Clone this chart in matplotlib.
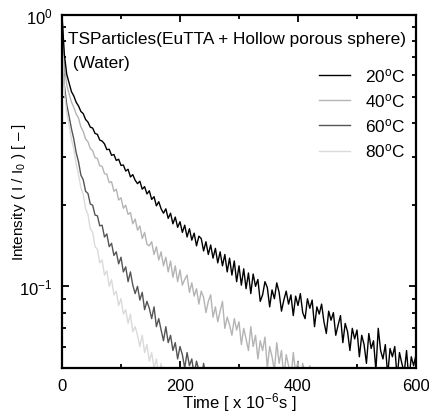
import numpy as np
import matplotlib
matplotlib.use("Agg")
import matplotlib.pyplot as plt
from matplotlib.ticker import LogLocator, NullFormatter, MultipleLocator

plt.rcParams['font.family'] = ['Liberation Sans', 'DejaVu Sans']
plt.rcParams['mathtext.fontset'] = 'custom'
plt.rcParams['mathtext.rm'] = 'Liberation Sans'
plt.rcParams['mathtext.it'] = 'Liberation Sans:italic'

# sampling interval of the decays [x 10^-6 s]
step = 4

i20 = [1.000, 0.715, 0.605, 0.562, 0.522, 0.503, 0.477, 0.462, 0.441, 0.433,
       0.412, 0.403, 0.386, 0.383, 0.366, 0.363, 0.346, 0.343, 0.335, 0.319,
       0.320, 0.304, 0.306, 0.291, 0.294, 0.279, 0.280, 0.266, 0.270, 0.253,
       0.258, 0.246, 0.239, 0.244, 0.228, 0.233, 0.219, 0.225, 0.209, 0.214,
       0.198, 0.205, 0.193, 0.186, 0.193, 0.178, 0.186, 0.170, 0.180, 0.165,
       0.173, 0.158, 0.168, 0.152, 0.163, 0.148, 0.157, 0.141, 0.153, 0.150,
       0.135, 0.146, 0.131, 0.142, 0.127, 0.138, 0.122, 0.134, 0.119, 0.131,
       0.113, 0.127, 0.110, 0.124, 0.104, 0.119, 0.101, 0.116, 0.098, 0.112,
       0.094, 0.111, 0.100, 0.106, 0.088, 0.093, 0.104, 0.099, 0.084, 0.097,
       0.090, 0.103, 0.095, 0.081, 0.089, 0.096, 0.086, 0.093, 0.078, 0.092,
       0.085, 0.094, 0.080, 0.076, 0.090, 0.083, 0.089, 0.071, 0.084, 0.079,
       0.086, 0.074, 0.067, 0.081, 0.075, 0.080, 0.066, 0.072, 0.078, 0.062,
       0.073, 0.068, 0.058, 0.070, 0.064, 0.069, 0.055, 0.066, 0.061, 0.052,
       0.067, 0.059, 0.063, 0.049, 0.070, 0.058, 0.054, 0.061, 0.047, 0.059,
       0.055, 0.060, 0.046, 0.057, 0.052, 0.048, 0.058, 0.045, 0.055, 0.051,
       0.056]

i40 = [1.000, 0.650, 0.553, 0.512, 0.478, 0.457, 0.432, 0.417, 0.387, 0.372,
       0.349, 0.341, 0.322, 0.316, 0.298, 0.296, 0.278, 0.277, 0.260, 0.259,
       0.241, 0.243, 0.224, 0.228, 0.208, 0.212, 0.194, 0.199, 0.184, 0.187,
       0.170, 0.177, 0.161, 0.167, 0.150, 0.158, 0.143, 0.141, 0.146, 0.131,
       0.140, 0.125, 0.134, 0.119, 0.128, 0.113, 0.124, 0.108, 0.119, 0.104,
       0.115, 0.101, 0.106, 0.110, 0.095, 0.103, 0.092, 0.098, 0.086, 0.096,
       0.091, 0.080, 0.088, 0.093, 0.077, 0.084, 0.074, 0.081, 0.088, 0.070,
       0.077, 0.072, 0.066, 0.076, 0.069, 0.074, 0.061, 0.070, 0.064, 0.058,
       0.071, 0.060, 0.066, 0.054, 0.063, 0.058, 0.065, 0.050, 0.060, 0.055,
       0.049, 0.062, 0.052, 0.058, 0.046, 0.056, 0.051, 0.045, 0.057, 0.048,
       0.053, 0.044, 0.052, 0.047, 0.042, 0.051, 0.045, 0.049, 0.041, 0.048,
       0.043]

i60 = [1.000, 0.550, 0.468, 0.423, 0.381, 0.349, 0.311, 0.288, 0.257, 0.247,
       0.224, 0.220, 0.201, 0.199, 0.183, 0.182, 0.167, 0.168, 0.152, 0.156,
       0.140, 0.144, 0.130, 0.134, 0.121, 0.128, 0.113, 0.118, 0.104, 0.113,
       0.101, 0.094, 0.100, 0.089, 0.095, 0.082, 0.088, 0.083, 0.076, 0.084,
       0.071, 0.076, 0.069, 0.063, 0.071, 0.062, 0.066, 0.058, 0.062, 0.054,
       0.060, 0.056, 0.050, 0.057, 0.051, 0.054, 0.047, 0.053, 0.049, 0.045,
       0.052, 0.046, 0.050, 0.043, 0.048, 0.044]

i80 = [1.000, 0.520, 0.437, 0.392, 0.348, 0.322, 0.283, 0.258, 0.231, 0.218,
       0.193, 0.184, 0.163, 0.158, 0.140, 0.137, 0.122, 0.125, 0.110, 0.114,
       0.100, 0.106, 0.093, 0.096, 0.085, 0.090, 0.079, 0.082, 0.073, 0.079,
       0.068, 0.071, 0.066, 0.060, 0.066, 0.057, 0.061, 0.053, 0.057, 0.050,
       0.054, 0.047, 0.052, 0.046, 0.043, 0.049]

labels = ['20$^{\\rm o}$C', '40$^{\\rm o}$C', '60$^{\\rm o}$C', '80$^{\\rm o}$C']
colors = ['#000000', '#b4b4b4', '#555555', '#dadada']
series = [i20, i40, i60, i80]

fig = plt.figure(figsize=(4.29, 4.14), dpi=100)
ax = fig.add_axes([0.1445, 0.1087, 0.8252, 0.8527])

handles = []
for ys, c, lab in zip(series, colors, labels):
    t = np.arange(len(ys)) * step
    h, = ax.plot(t, ys, color=c, lw=1.0, label=lab)
    handles.append(h)
handles[0].set_zorder(5)

ax.set_yscale('log')
ax.set_xlim(0, 600)
ax.set_ylim(0.05, 1.0)
ax.xaxis.set_major_locator(MultipleLocator(200))
ax.xaxis.set_minor_locator(MultipleLocator(100))
ax.yaxis.set_major_locator(LogLocator(base=10))
ax.yaxis.set_minor_locator(LogLocator(base=10, subs=np.arange(2, 10)))
ax.yaxis.set_minor_formatter(NullFormatter())

for s in ax.spines.values():
    s.set_linewidth(1.6)
ax.tick_params(which='both', direction='in', top=True, right=True, labelsize=12, width=1.3)
ax.tick_params(which='major', length=5, pad=7)
ax.tick_params(which='minor', length=3)

ax.set_xlabel('Time [ x 10$^{-6}$s ]', fontsize=12, labelpad=-2)
fig.text(19 / 429, 1 - 192 / 414, 'Intensity ( I / I$_0$ ) [ \u2013 ]', fontsize=11,
         rotation=90, ha='center', va='center')

ax.text(0.017, 0.932, 'TSParticles(EuTTA + Hollow porous sphere)', transform=ax.transAxes,
        fontsize=12.4, va='center', ha='left')
ax.text(0.017, 0.864, ' (Water)', transform=ax.transAxes,
        fontsize=12.4, va='center', ha='left')

ax.legend(handles=handles, loc='upper right', bbox_to_anchor=(1.0, 0.885), frameon=False,
          fontsize=12.4, handlelength=1.8, handletextpad=0.9, labelspacing=0.42,
          borderaxespad=0.2)

fig.savefig('out.png', dpi=100)
